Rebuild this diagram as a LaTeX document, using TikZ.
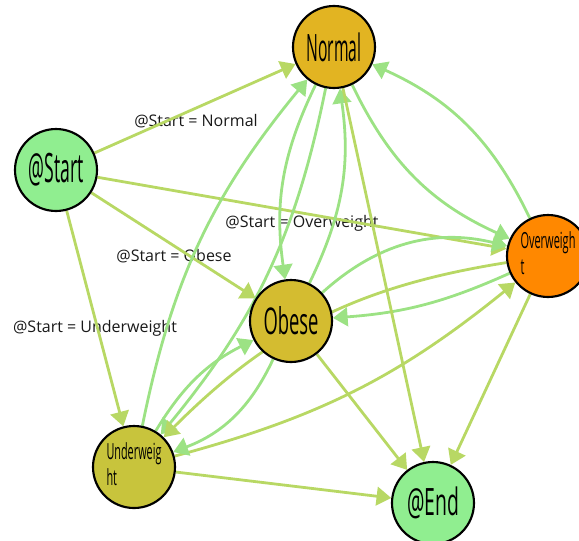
\documentclass[tikz,border=0pt]{standalone}
\usepackage{fontspec}
\setmainfont{Open Sans}
\usetikzlibrary{arrows.meta}
\definecolor{edgeY}{RGB}{184,216,100}
\definecolor{edgeG}{RGB}{156,226,132}
\definecolor{cNormal}{RGB}{226,180,34}
\definecolor{cGreen}{RGB}{144,238,144}
\definecolor{cOver}{RGB}{255,136,0}
\definecolor{cObese}{RGB}{212,188,48}
\definecolor{cUnder}{RGB}{200,196,60}
\pgfdeclarelayer{labels}
\pgfdeclarelayer{edges}
\pgfsetlayers{labels,edges,main}
\newcommand{\twoline}[2]{\resizebox*{41.25pt}{40pt}{\begin{tabular}{@{}l@{}}#1\\#2\end{tabular}}}
\begin{document}
\begin{tikzpicture}[x=0.75pt,y=-0.75pt,
  state/.style={circle,draw=black,line width=1.6pt,minimum size=61.5pt,inner sep=0pt},
  trans/.style={line width=2.1pt,-{Triangle[length=11pt,width=14pt]}},
  elabel/.style={font=\fontsize{12}{14}\selectfont,text=black!90}
]
\useasboundingbox (0,0) rectangle (579,540);

% states
\node[state,fill=cGreen]  (S) at (56,170)  {\resizebox{41.25pt}{22pt}{@Start}};
\node[state,fill=cNormal] (N) at (334,47)  {\resizebox{41.25pt}{21.5pt}{Normal}};
\node[state,fill=cOver]   (O) at (548,256) {\twoline{Overweigh}{t}};
\node[state,fill=cObese]  (B) at (291,321) {\resizebox{41.25pt}{21pt}{Obese}};
\node[state,fill=cUnder]  (U) at (134,467) {\raisebox{-3pt}{\twoline{Underweig}{ht}}};
\node[state,fill=cGreen]  (E) at (433,503) {\resizebox{39pt}{21.5pt}{@End}};

% transition labels
\begin{pgfonlayer}{labels}
\node[elabel] (lN) at (196,121) {@Start = Normal};
\node[elabel] (lO) at (302,223) {@Start = Overweight};
\node[elabel] (lB) at (174,256) {@Start = Obese};
\node[elabel] (lU) at (95,328)  {@Start = Underweight};
\end{pgfonlayer}

% transitions
\begin{pgfonlayer}{edges}
\draw[trans,edgeY] (S) -- (N);
\draw[trans,edgeY] (S) -- (O);
\draw[trans,edgeY] (S) -- (B);
\draw[trans,edgeY] (S) -- (U);

\draw[trans,edgeG] (N) to[bend right=17] (B);
\draw[trans,edgeG] (B) to[bend right=17] (N);
\draw[trans,edgeG] (N) to[bend right=20] (O);
\draw[trans,edgeG] (O) to[bend right=20] (N);
\draw[trans,edgeG] (N) to[bend left=14] (U);
\draw[trans,edgeG] (U) to[bend left=14] (N);

\draw[trans,edgeG] (B) to[bend left=28] (O);
\draw[trans,edgeG] (O) to[bend left=10] (B);
\draw[trans,edgeY] (O) to[bend right=18] (U);
\draw[trans,edgeY] (U) to[bend right=12] (O);
\draw[trans,edgeG] (U) to[bend left=16] (B);
\draw[trans,edgeG] (B) to[bend left=22] (U);

\draw[trans,edgeY] (N) -- (E);
\draw[trans,edgeY] (B) -- (E);
\draw[trans,edgeY] (O) -- (E);
\draw[trans,edgeY] (U) -- (E);
\end{pgfonlayer}
\end{tikzpicture}
\end{document}
